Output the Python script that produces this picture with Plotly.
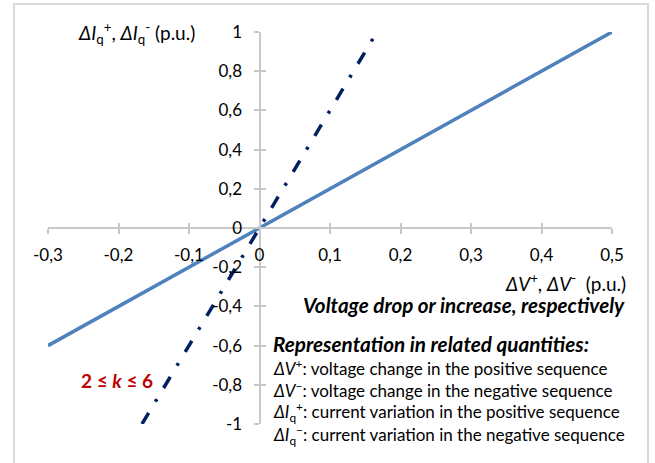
import plotly.graph_objects as go

# Data
dV_solid = [-0.3, 0.5]
dI_solid = [-0.6, 1.0]          # k = 2
dV_dash = [-1/6, 1/6]
dI_dash = [-1.0, 1.0]           # k = 6

x_range = [-0.3, 0.5]
y_range = [-1.0, 1.0]
x_ticks = [-0.3, -0.2, -0.1, 0, 0.1, 0.2, 0.3, 0.4, 0.5]
x_labels = ["-0,3", "-0,2", "-0,1", "0", "0,1", "0,2", "0,3", "0,4", "0,5"]
y_ticks = [-1, -0.8, -0.6, -0.4, -0.2, 0, 0.2, 0.4, 0.6, 0.8, 1]
y_labels = ["-1", "-0,8", "-0,6", "-0,4", "-0,2", "0", "0,2", "0,4", "0,6", "0,8", "1"]

legend_lines = [
    "<i>ΔV</i><sup>+</sup>: voltage change in the positive sequence",
    "<i>ΔV</i><sup>−</sup>: voltage change in the negative sequence",
    "<i>ΔI</i><sub>q</sub><sup>+</sup>: current variation in the positive sequence",
    "<i>ΔI</i><sub>q</sub><sup>−</sup>: current variation in the negative sequence",
]

FONT = "Lato"
AX = "#c8c8c8"

fig = go.Figure()
fig.add_trace(go.Scatter(x=dV_solid, y=dI_solid, mode="lines",
                         line=dict(color="#4f81bd", width=3.5), showlegend=False,
                         hoverinfo="skip"))
fig.add_trace(go.Scatter(x=dV_dash, y=dI_dash, mode="lines",
                         line=dict(color="#002060", width=3.5, dash="13px,13px,3px,13px"),
                         showlegend=False, hoverinfo="skip"))
# dummy trace for the overlay axes (upper half of cross ticks)
fig.add_trace(go.Scatter(x=[], y=[], xaxis="x2", yaxis="y2", showlegend=False))

xpos = (0 - y_range[0]) / (y_range[1] - y_range[0])
ypos = (0 - x_range[0]) / (x_range[1] - x_range[0])

common_x = dict(range=x_range, tickvals=x_ticks, showgrid=False, zeroline=False,
                anchor="free", position=xpos, ticklen=5, tickwidth=1.5, tickcolor=AX)
common_y = dict(range=y_range, tickvals=y_ticks, showgrid=False, zeroline=False,
                anchor="free", position=ypos, ticklen=5, tickwidth=1.5, tickcolor=AX)

fig.update_layout(
    width=655, height=463,
    margin=dict(l=48, r=43, t=32, b=39),
    paper_bgcolor="white", plot_bgcolor="white",
    font=dict(family=FONT, size=14, color="#000000"),
    xaxis=dict(**common_x, ticktext=x_labels, ticks="outside", showline=True,
               linecolor=AX, linewidth=2, ticklabelstandoff=7,
               tickfont=dict(family=FONT, size=17)),
    yaxis=dict(**common_y, ticktext=y_labels, ticks="outside", showline=True,
               linecolor=AX, linewidth=2, ticklabelstandoff=8,
               tickfont=dict(family=FONT, size=17)),
    xaxis2=dict(**common_x, overlaying="x", matches="x", ticks="inside",
                showline=False, showticklabels=False),
    yaxis2=dict(**common_y, overlaying="y", matches="y", ticks="inside",
                showline=False, showticklabels=False),
)

W, H = 564, 392.0
def px(x): return (x - 48) / W
def py(y): return 1 - (y - 32) / H

# outer frame
fig.add_shape(type="rect", xref="paper", yref="paper",
              x0=px(14), x1=px(648), y0=-0.2, y1=py(4),
              line=dict(color="#d9d9d9", width=2), layer="below")

def ann(text, x, y, xanchor="left", size=15, **kw):
    fig.add_annotation(text=text, xref="paper", yref="paper", x=x, y=y,
                       xanchor=xanchor, yanchor="middle", showarrow=False,
                       font=dict(family=FONT, size=size, color=kw.pop("color", "#000000")),
                       **kw)

ann("<i>ΔI</i><sub>q</sub><sup>+</sup>, <i>ΔI</i><sub>q</sub><sup>-</sup> (p.u.)",
    px(197), py(33), xanchor="right", size=19)
ann("<i>ΔV</i><sup>+</sup>, <i>ΔV</i><sup>-</sup>  (p.u.)", px(628), py(282),
    xanchor="right", size=19)
ann("<b><i>Voltage drop or increase, respectively</i></b>", px(627), py(305),
    xanchor="right", size=20.6)
ann("<b><i>Representation in related quantities:</i></b>", px(271), py(344), size=20.7)
for i, t in enumerate(legend_lines):
    ann(t, px(271), py(367 + 22.7 * i), size=17)
ann("<b>2 ≤ <i>k</i> ≤ 6</b>", px(117), py(380), xanchor="center", size=19, color="#c00000")

fig.write_html("out.html")
